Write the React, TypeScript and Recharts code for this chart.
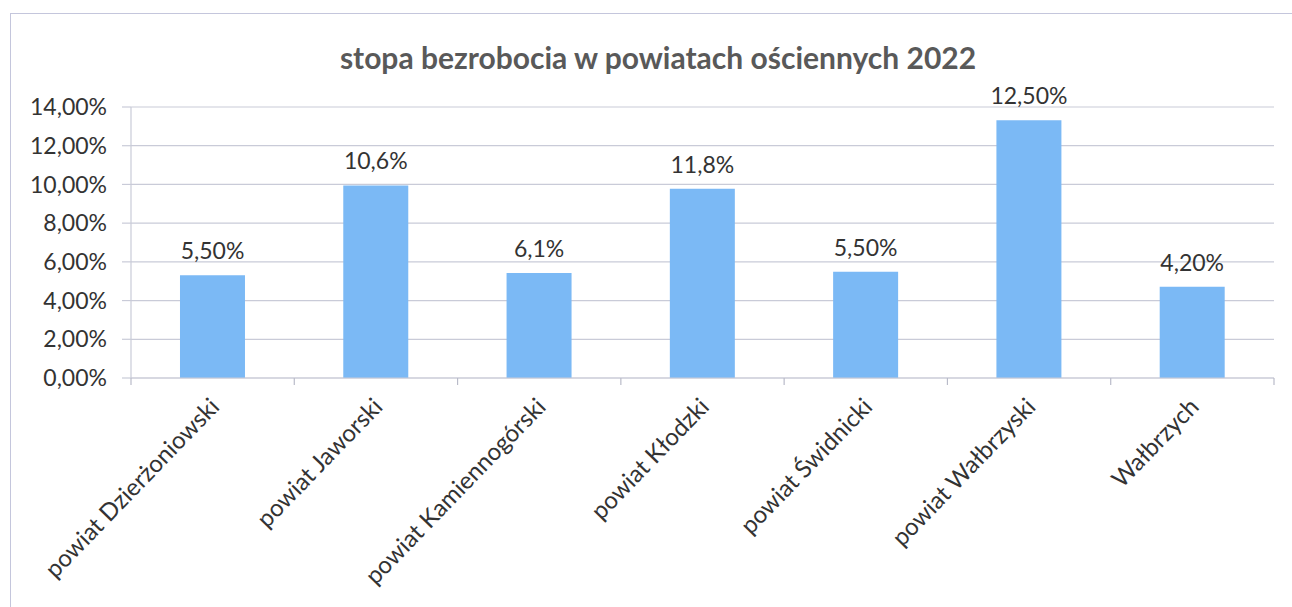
import { BarChart, Bar, XAxis, YAxis, CartesianGrid, LabelList } from 'recharts'

const categories = [
  'powiat Dzierżoniowski',
  'powiat Jaworski',
  'powiat Kamiennogórski',
  'powiat Kłodzki',
  'powiat Świdnicki',
  'powiat Wałbrzyski',
  'Wałbrzych',
]
// bar heights as drawn in the picture
const rates = [0.0531, 0.0995, 0.0543, 0.0978, 0.0549, 0.1332, 0.0471]
// label texts as printed above the bars
const rateLabels = ['5,50%', '10,6%', '6,1%', '11,8%', '5,50%', '12,50%', '4,20%']
const yTicks = [0, 0.02, 0.04, 0.06, 0.08, 0.1, 0.12, 0.14]

const data = categories.map((name, i) => ({ name, rate: rates[i], label: rateLabels[i] }))

const FONT = 'Lato, "Open Sans", sans-serif'
const TEXT = '#333333'
const GRID = '#c9cbd8'
const TICK = '#b9bbc9'

const pct = (v: number) => (v * 100).toFixed(2).replace('.', ',') + '%'

// label + tick marks at the category boundaries (Excel style)
function CategoryTick(props: any) {
  const { x, y, payload, index, visibleTicksCount } = props
  const half = payload.offset || 0
  const axisY = y - 8
  return (
    <g>
      <line x1={x - half} x2={x - half} y1={axisY} y2={axisY + 7} stroke={TICK} strokeWidth={1.2} />
      {index === visibleTicksCount - 1 && (
        <line x1={x + half} x2={x + half} y1={axisY} y2={axisY + 7} stroke={TICK} strokeWidth={1.2} />
      )}
      <text
        x={x + 8}
        y={y + 22}
        transform={`rotate(-46, ${x + 8}, ${y + 22})`}
        textAnchor="end"
        fontSize={24}
        fontFamily={FONT}
        fill={TEXT}
      >
        {payload.value}
      </text>
    </g>
  )
}

function BarLabel(props: any) {
  const { x, y, width, value } = props
  return (
    <text x={x + width / 2} y={y - 16} textAnchor="middle" fontSize={23} fontFamily={FONT} fill={TEXT}>
      {value}
    </text>
  )
}

export default function App() {
  return (
    <div
      style={{
        position: 'absolute',
        left: 10,
        top: 13,
        width: 1282,
        height: 594,
        borderLeft: '1.5px solid #c4c6dc',
        borderTop: '1.5px solid #c4c6dc',
        boxSizing: 'border-box',
        background: '#fff',
      }}
    >
      <div
        style={{
          position: 'absolute',
          left: 0,
          top: 25,
          width: 1294,
          textAlign: 'center',
          fontFamily: FONT,
          fontWeight: 700,
          fontSize: 30,
          color: '#595959',
        }}
      >
        stopa bezrobocia w powiatach ościennych 2022
      </div>
      <BarChart
        width={1280}
        height={592}
        data={data}
        margin={{ top: 93, right: 17, bottom: 0, left: 0 }}
        barCategoryGap="30%"
      >
        <CartesianGrid vertical={false} stroke={GRID} strokeWidth={1.2} />
        <XAxis
          dataKey="name"
          interval={0}
          height={228}
          tick={<CategoryTick />}
          tickSize={6}
          tickMargin={2}
          tickLine={false}
          axisLine={{ stroke: GRID, strokeWidth: 1.2 }}
        />
        <YAxis
          domain={[0, 0.14]}
          ticks={yTicks}
          tickFormatter={pct}
          width={120}
          tickSize={9}
          tickMargin={15}
          tick={{ fontSize: 23, fontFamily: FONT, fill: TEXT }}
          tickLine={{ stroke: GRID, strokeWidth: 1.2 }}
          axisLine={{ stroke: GRID, strokeWidth: 1.2 }}
        />
        <Bar dataKey="rate" fill="#7bb9f5" isAnimationActive={false}>
          <LabelList dataKey="label" content={<BarLabel />} />
        </Bar>
      </BarChart>
    </div>
  )
}
